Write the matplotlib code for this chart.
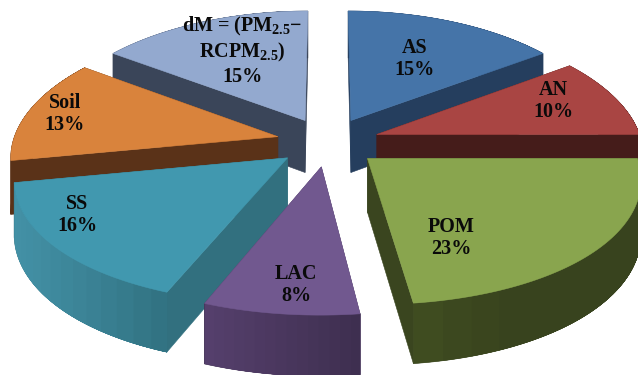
import numpy as np
import matplotlib
matplotlib.use("Agg")
import matplotlib.pyplot as plt
from matplotlib.colors import to_rgb
from matplotlib.patches import Polygon

# ---- data ----
categories = ["AS", "AN", "POM", "LAC", "SS", "Soil", "dM"]
values = [15, 10, 23, 8, 16, 13, 15]
labels = ["AS\n15%", "AN\n10%", "POM\n23%", "LAC\n8%", "SS\n16%", "Soil\n13%",
          "dM = (PM$_{2.5}$\u2212\nRCPM$_{2.5}$)\n15%"]

# ---- style ----
top_col = dict(AS="#4574a8", AN="#a94543", POM="#89a54e", LAC="#71588f",
               SS="#4198af", Soil="#d9833c", dM="#93a9cf")
wall_col = dict(AS="#253e5e", AN="#451c1a", POM="#3a451f", LAC="#4a3860",
                SS="#32707f", Soil="#5a3218", dM="#3a4559")
arc_from = dict(AS="#253e5e", AN="#451c1a", POM="#3f4c20", LAC="#553f6c",
                SS="#4391a6", Soil="#5a3218", dM="#3a4559")
arc_to = dict(AS="#253e5e", AN="#451c1a", POM="#38431e", LAC="#3d2e4e",
              SS="#30707f", Soil="#5a3218", dM="#3a4559")
label_xy = dict(AS=(415, 58), AN=(553, 100), POM=(451, 237), LAC=(296, 284),
                SS=(77, 214), Soil=(65, 113), dM=(242, 50))
draw_order = ["dM", "AS", "Soil", "AN", "SS", "POM", "LAC"]

CX, CY = 328.0, 142.0
A, B = 265.0, 126.0
KX, KY = 0.14, 0.11
EXPLODE = 0.195
DEPTH = 53.0

plt.rcParams["font.family"] = ["Liberation Serif", "DejaVu Serif"]
plt.rcParams["mathtext.default"] = "regular"

fig = plt.figure(figsize=(6.38, 3.75), dpi=100)
ax = fig.add_axes([0, 0, 1, 1])
ax.set_xlim(0, 638)
ax.set_ylim(375, 0)
ax.axis("off")


def project(X, Y, drop=0.0):
    sx = 1.0 / (1.0 + KX * Y)
    sy = 1.0 / (1.0 + KY * Y)
    return np.column_stack([CX + A * X * sx, CY - B * Y * sy + drop * sy])


def wedge(t0, t1):
    mid = np.radians((t0 + t1) / 2)
    ox, oy = EXPLODE * np.sin(mid), EXPLODE * np.cos(mid)
    th = np.radians(np.linspace(t0, t1, 90))
    return ox, oy, ox + np.sin(th), oy + np.cos(th)


def quad(poly, color, z, lw=0.4):
    ax.add_patch(Polygon(poly, closed=True, fc=color,
                         ec=color if lw else "none", lw=lw, zorder=z))


edges = np.concatenate([[0], np.cumsum(values)]) / np.sum(values) * 360.0
spans = {c: (edges[i], edges[i + 1]) for i, c in enumerate(categories)}

for order, name in enumerate(draw_order):
    z = order * 10
    ox, oy, ax_, ay_ = wedge(*spans[name])
    wc = wall_col[name]
    # radial walls
    for ex, ey in ((ax_[0], ay_[0]), (ax_[-1], ay_[-1])):
        xs = np.array([ox, ex])
        ys = np.array([oy, ey])
        quad(np.vstack([project(xs, ys), project(xs, ys, DEPTH)[::-1]]), wc, z)
    # curved wall: a solid base, then overlapping shaded bands (no seams)
    up = project(ax_, ay_)
    lo = project(ax_, ay_, DEPTH)
    quad(np.vstack([up, lo[::-1]]), arc_to[name], z + 1)
    c0, c1 = np.array(to_rgb(arc_from[name])), np.array(to_rgb(arc_to[name]))
    xmin, xmax = up[:, 0].min(), up[:, 0].max()
    n = len(ax_)
    ordered = np.arange(n) if up[0, 0] < up[-1, 0] else np.arange(n)[::-1]
    step = 6
    for i in range(0, n - 1, step):
        a = ordered[i:]
        f = (up[ordered[i], 0] - xmin) / max(xmax - xmin, 1)
        if name == "POM":
            f = min(1, f * 3)
        col = tuple(c0 + (c1 - c0) * f)
        quad(np.vstack([up[a], lo[a][::-1]]), col, z + 1, lw=0)
    # top face
    top = project(np.r_[ox, ax_], np.r_[oy, ay_])
    quad(top, top_col[name], z + 2)

for name, text in zip(categories, labels):
    x, y = label_xy[name]
    ax.text(x, y + 1, text, ha="center", va="center", ma="center", fontsize=14.5,
            fontweight="bold", color="#0a0a0a", linespacing=1.16, zorder=200)

fig.savefig("out.png", dpi=100, facecolor="white")
